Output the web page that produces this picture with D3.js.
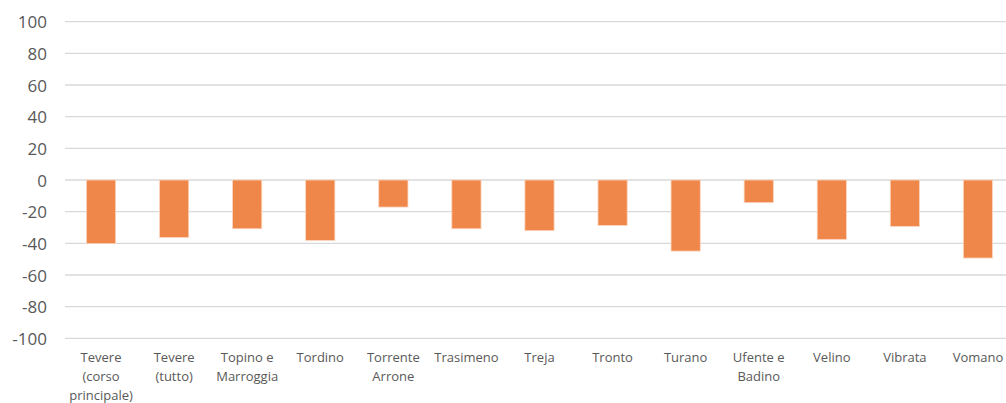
<!DOCTYPE html>
<html>
<head>
<meta charset="utf-8">
<script src="https://cdn.jsdelivr.net/npm/d3@7"></script>
<style>
  html, body { margin: 0; padding: 0; background: #fff; }
  svg { display: block; }
  text { font-family: "Open Sans", "Liberation Sans", sans-serif; fill: #595959; }
</style>
</head>
<body>
<svg id="chart" width="1006" height="403"></svg>
<script>
// River basins and their values
const categories = [
  "Tevere (corso principale)", "Tevere (tutto)", "Topino e Marroggia", "Tordino",
  "Torrente Arrone", "Trasimeno", "Treja", "Tronto", "Turano",
  "Ufente e Badino", "Velino", "Vibrata", "Vomano"
];
const values = [-40.2, -36.3, -30.8, -38.2, -17.1, -30.8, -32, -28.7, -44.9, -14.3, -37.5, -29.3, -49.3];
const yTicks = [100, 80, 60, 40, 20, 0, -20, -40, -60, -80, -100];

const svg = d3.select("#chart");

const x = d3.scaleBand()
  .domain(categories)
  .range([64.5, 1014.5])
  .paddingInner(0.6)
  .paddingOuter(0.3);

const y = d3.scaleLinear()
  .domain([-100, 100])
  .range([338.3, 21.7]);

// Horizontal gridlines
svg.append("g")
  .selectAll("line")
  .data(yTicks)
  .join("line")
  .attr("x1", 65)
  .attr("x2", 1006)
  .attr("y1", d => y(d))
  .attr("y2", d => y(d))
  .attr("stroke", "#d9d9d9")
  .attr("stroke-width", 1.3);

// Y axis labels (plain hyphen for negatives)
const yAxis = d3.axisLeft(y)
  .tickValues(yTicks)
  .tickFormat(d => String(d))
  .tickSize(0)
  .tickPadding(0);
const gy = svg.append("g")
  .attr("transform", "translate(47,0)")
  .call(yAxis);
gy.select(".domain").remove();
gy.selectAll("text")
  .attr("font-size", "17px")
  .attr("fill", "#595959")
  .attr("font-family", "'Open Sans', 'Liberation Sans', sans-serif")
  .attr("dy", "0.36em");

// Bars
svg.append("g")
  .selectAll("rect")
  .data(categories.map((c, i) => ({ c, v: values[i] })))
  .join("rect")
  .attr("x", d => x(d.c))
  .attr("width", x.bandwidth())
  .attr("y", d => y(Math.max(0, d.v)))
  .attr("height", d => Math.abs(y(d.v) - y(0)))
  .attr("fill", "#F0874A")
  .attr("stroke", "#fbd6bf")
  .attr("stroke-width", 0.8);

// Category labels, wrapped to the band step
const maxW = x.step() * 0.92;
const labels = svg.append("g");
categories.forEach(c => {
  const cx = x(c) + x.bandwidth() / 2;
  const t = labels.append("text")
    .attr("x", cx)
    .attr("y", 362)
    .attr("text-anchor", "middle")
    .attr("font-size", "13px");
  const words = c.split(" ");
  let lines = [];
  let line = [];
  const probe = t.append("tspan");
  words.forEach(w => {
    const trial = line.concat(w).join(" ");
    probe.text(trial);
    if (probe.node().getComputedTextLength() > maxW && line.length) {
      lines.push(line.join(" "));
      line = [w];
    } else {
      line.push(w);
    }
  });
  lines.push(line.join(" "));
  probe.remove();
  lines.forEach((l, i) => {
    t.append("tspan")
      .attr("x", cx)
      .attr("y", 362 + i * 19)
      .text(l);
  });
});
</script>
</body>
</html>
